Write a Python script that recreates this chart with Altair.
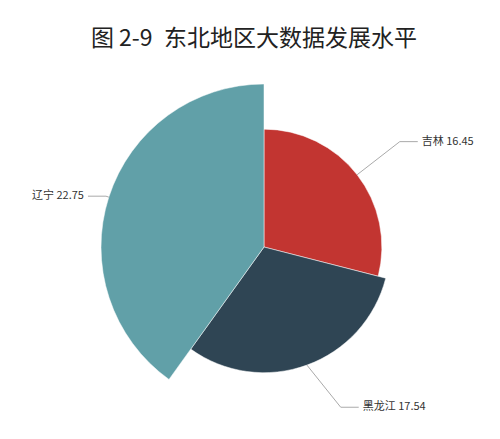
import math
import altair as alt
import pandas as pd

# ---- data ----
names = ["吉林", "黑龙江", "辽宁"]
values = [16.45, 17.54, 22.75]
colors = ["#c23531", "#2f4554", "#61a0a8"]
title_text = "图 2-9\u2002东北地区大数据发展水平"

# ---- layout constants (pixels) ----
W, H = 484, 360
CX, CY = 256, 186          # pie centre inside the plot area
R_MAX = 163                # radius of the largest slice
leader_ext = [54, 52, 3]   # first leader segment length
leader_rot = [0, -5.6, 0]  # elbow angle tweak (deg)
leader_h = 18              # horizontal leader segment
text_gap = 4

df = pd.DataFrame({"name": names, "value": values, "idx": range(len(names))})

# leader lines / labels derived from the data
k = R_MAX / max(values)
total = sum(values)
rows, labels = [], []
cum = 0.0
for i, (n, v) in enumerate(zip(names, values)):
    start = cum / total * 2 * math.pi
    cum += v
    end = cum / total * 2 * math.pi
    mid = (start + end) / 2
    r0 = v * k
    x0, y0 = r0 * math.sin(mid), -r0 * math.cos(mid)
    a1 = mid + math.radians(leader_rot[i])
    r1 = r0 + leader_ext[i]
    x1, y1 = r1 * math.sin(a1), -r1 * math.cos(a1)
    side = 1 if math.sin(a1) > 0 else -1
    x2, y2 = x1 + side * leader_h, y1
    for j, (px, py) in enumerate([(x0, y0), (x1, y1), (x2, y2)]):
        rows.append({"name": n, "pt": j, "x": px, "y": py})
    labels.append({"name": n, "label": f"{n} {v}", "x": x2 + side * text_gap, "y": y2,
                   "align": "left" if side > 0 else "right"})
lines_df = pd.DataFrame(rows)
labels_df = pd.DataFrame(labels)

xs = alt.Scale(domain=[-CX, W - CX], nice=False, zero=False)
ys = alt.Scale(domain=[-CY, H - CY], nice=False, zero=False, reverse=True)

arcs = alt.Chart(df).mark_arc(stroke="#ffffff", strokeWidth=0.5).encode(
    theta=alt.Theta("value:Q", stack=True),
    radius=alt.Radius("value:Q", scale=alt.Scale(type="linear", zero=True,
                                                 domain=[0, max(values)], range=[0, R_MAX])),
    color=alt.Color("name:N", scale=alt.Scale(domain=names, range=colors), legend=None),
    order=alt.Order("idx:Q"),
    x=alt.value(CX),
    y=alt.value(CY),
)

leaders = alt.Chart(lines_df).mark_line(color="#aaaaaa", strokeWidth=1).encode(
    x=alt.X("x:Q", scale=xs, axis=None),
    y=alt.Y("y:Q", scale=ys, axis=None),
    detail="name:N",
    order="pt:Q",
)

def text_layer(align):
    return alt.Chart(labels_df[labels_df["align"] == align]).mark_text(
        align=align, baseline="middle", fontSize=11, color="#333333",
        font="Noto Sans CJK SC",
    ).encode(
        x=alt.X("x:Q", scale=xs, axis=None),
        y=alt.Y("y:Q", scale=ys, axis=None),
        text="label:N",
    )

chart = alt.layer(arcs, leaders, text_layer("left"), text_layer("right")).properties(
    width=W, height=H,
    padding={"left": 0, "top": 20, "right": 0, "bottom": 0},
    title=alt.TitleParams(title_text, fontSize=23, font="Noto Sans CJK SC",
                          fontWeight="normal", color="#222222", anchor="middle",
                          offset=10, dx=4),
).configure_view(stroke=None)

chart.save("out.html", embed_options={"renderer": "svg", "actions": False})
